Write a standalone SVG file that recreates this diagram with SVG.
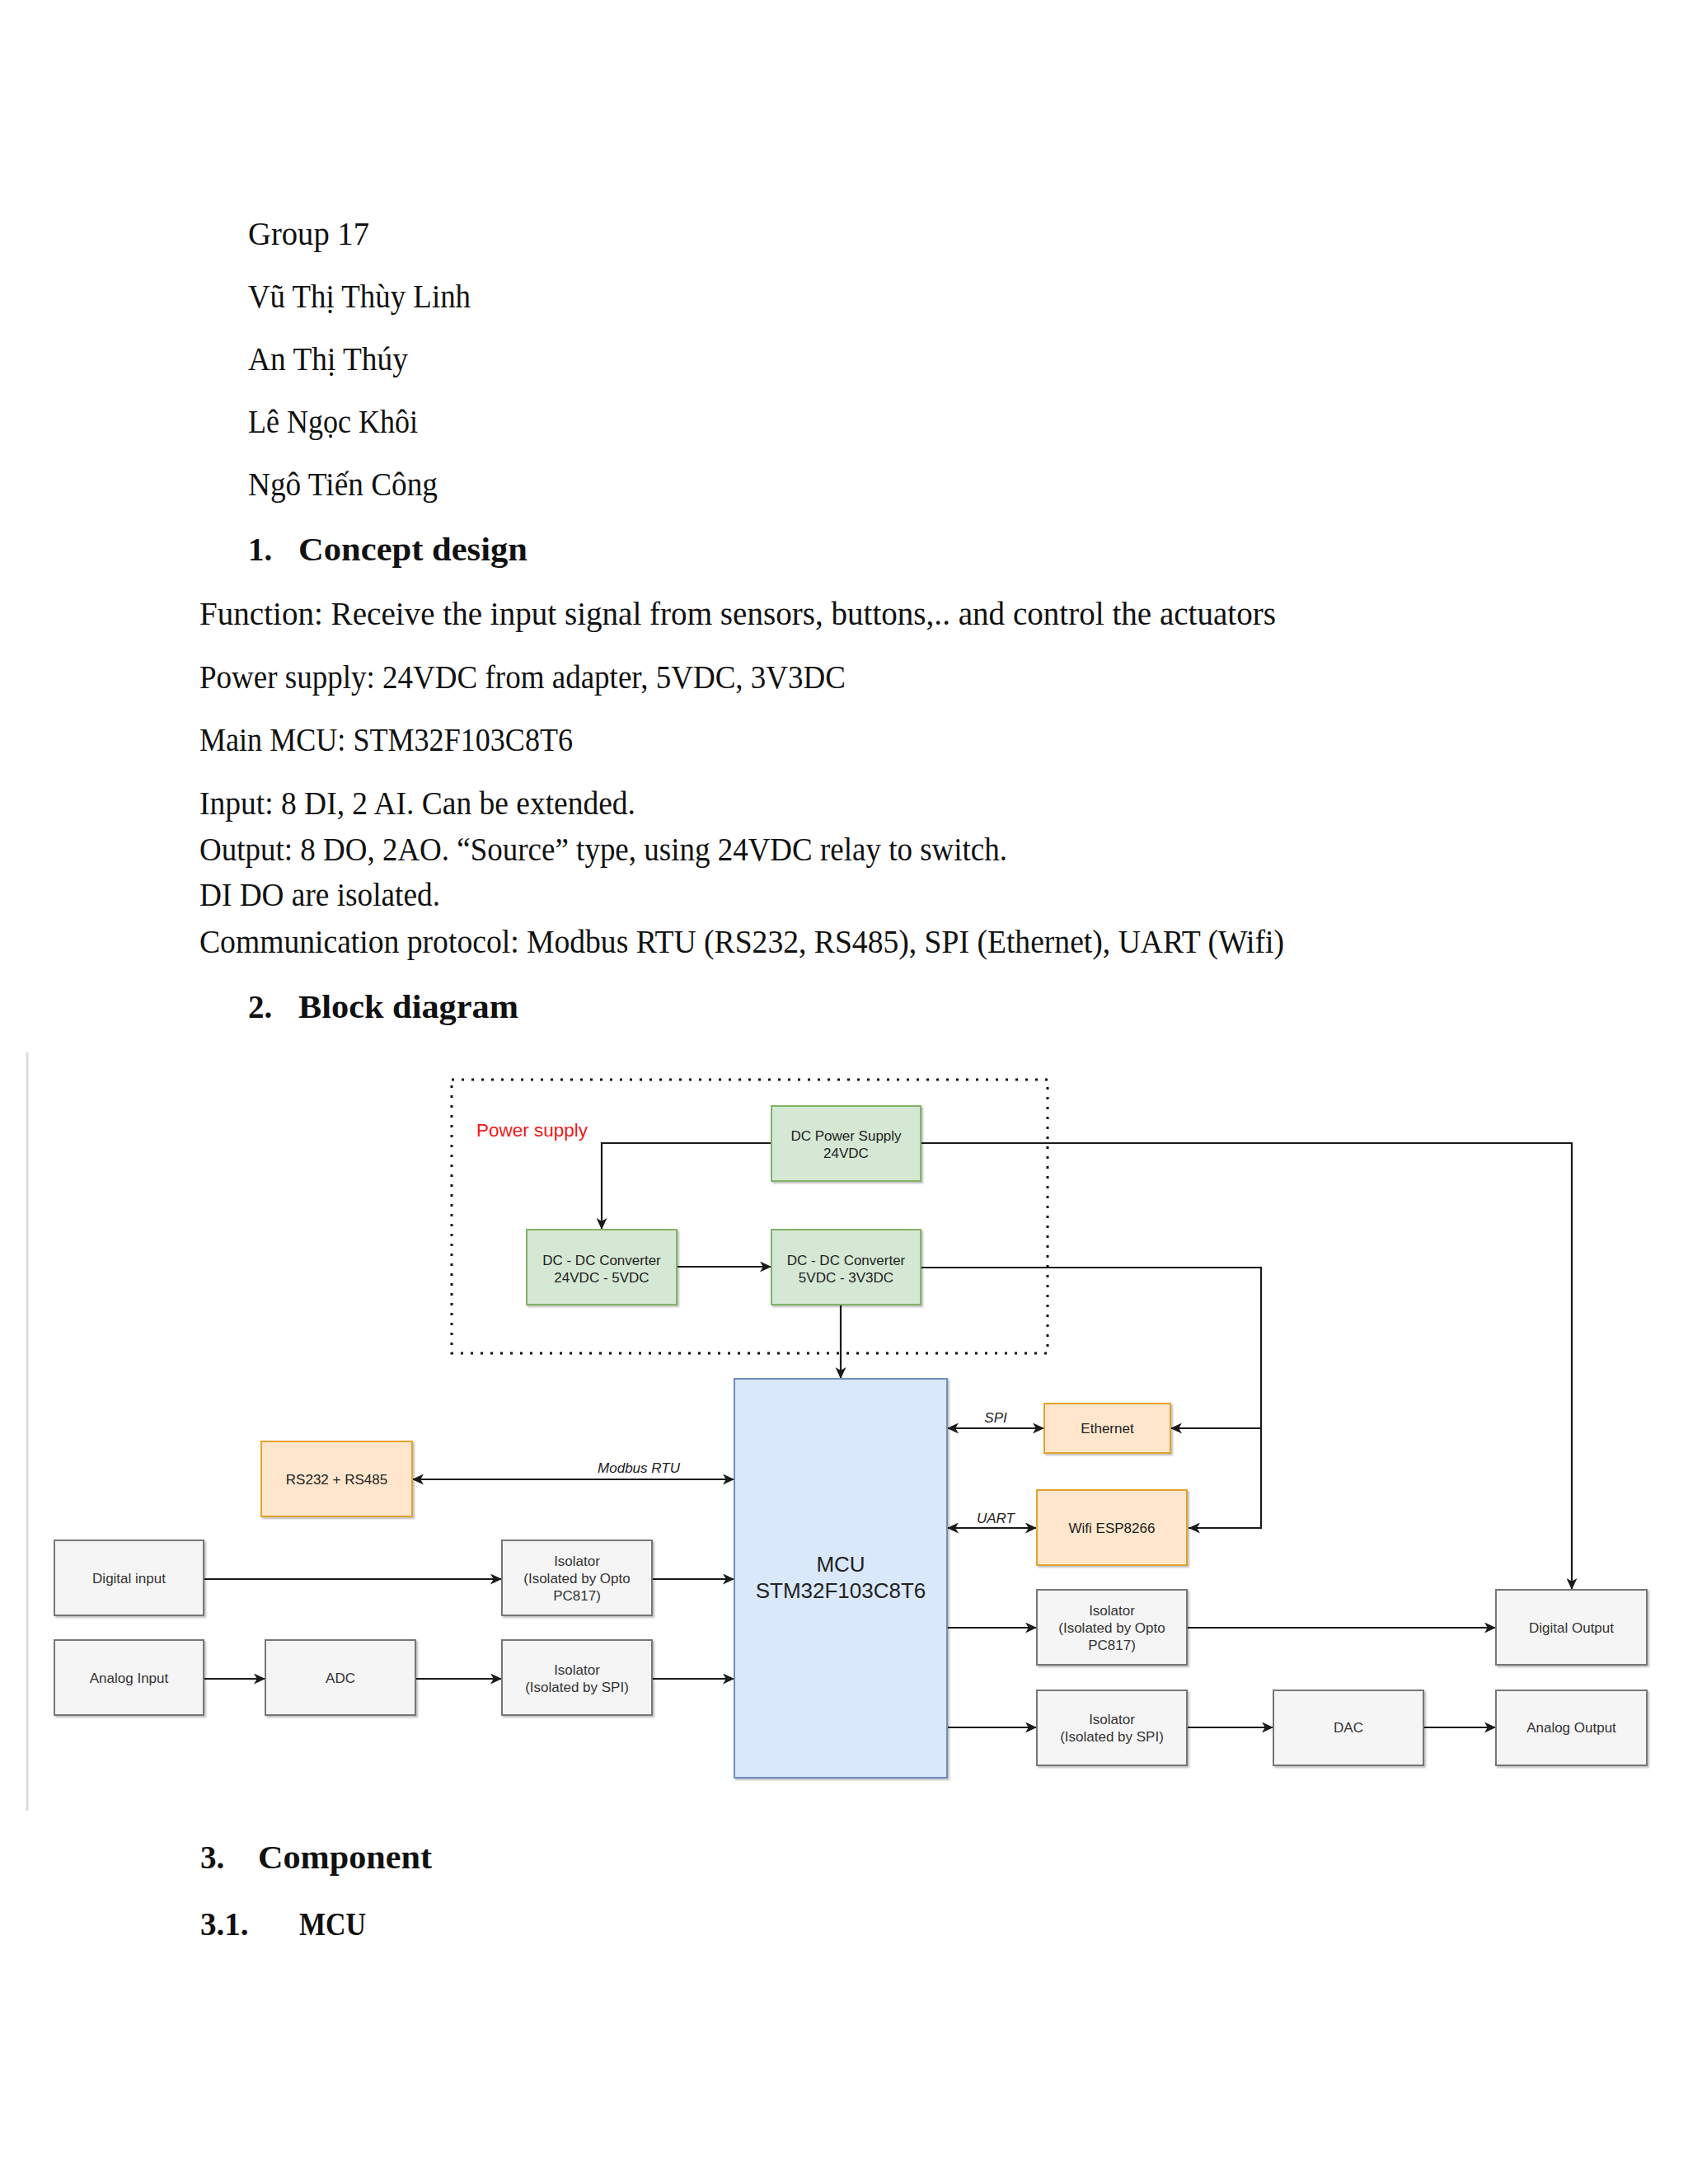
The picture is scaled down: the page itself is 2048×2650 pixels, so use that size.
<svg xmlns="http://www.w3.org/2000/svg" width="2048" height="2650" viewBox="0 0 2048 2650">
<defs>
<style>
.doc{font-family:"Liberation Serif","DejaVu Serif",serif;font-size:39px;fill:#111}
.h{font-weight:bold}
.nt{font-family:"Liberation Sans",Arial,sans-serif;font-size:17px;text-anchor:middle;fill:#222}
.big{font-size:26px}
.gt{fill:#333}
.lbl{font-family:"Liberation Sans",Arial,sans-serif;font-size:17px;font-style:italic;text-anchor:middle;fill:#222}
.green{fill:#d5e8d4;stroke:#82b366;stroke-width:2}
.orange{fill:#ffe6cc;stroke:#e3a32e;stroke-width:2}
.gray{fill:#f5f5f5;stroke:#777;stroke-width:2}
.blue{fill:#dae8fc;stroke:#6c8ebf;stroke-width:2}
.edge{fill:none;stroke:#1a1a1a;stroke-width:2.2}
</style>
<filter id="sh" x="-10%" y="-10%" width="130%" height="130%">
<feDropShadow dx="2" dy="2" stdDeviation="1.2" flood-color="#000" flood-opacity="0.25"/>
</filter>
<marker id="arr" markerUnits="userSpaceOnUse" markerWidth="15" markerHeight="13" refX="14" refY="6.5" orient="auto-start-reverse">
<path d="M0,0 L14,6.5 L0,13 L3.8,6.5 Z" fill="#1a1a1a"/>
</marker>
</defs>
<rect width="2048" height="2650" fill="#fff"/>

<g id="doc-text">
<text class="doc" x="301" y="297" textLength="147" lengthAdjust="spacingAndGlyphs">Group 17</text>
<text class="doc" x="301" y="373" textLength="270" lengthAdjust="spacingAndGlyphs">Vũ Thị Thùy Linh</text>
<text class="doc" x="301" y="449" textLength="194" lengthAdjust="spacingAndGlyphs">An Thị Thúy</text>
<text class="doc" x="301" y="525" textLength="206" lengthAdjust="spacingAndGlyphs">Lê Ngọc Khôi</text>
<text class="doc" x="301" y="601" textLength="230" lengthAdjust="spacingAndGlyphs">Ngô Tiến Công</text>
<text class="doc h" x="301" y="680">1.</text>
<text class="doc h" x="362" y="680" textLength="278" lengthAdjust="spacingAndGlyphs">Concept design</text>
<text class="doc" x="242" y="758" textLength="1306" lengthAdjust="spacingAndGlyphs">Function: Receive the input signal from sensors, buttons,.. and control the actuators</text>
<text class="doc" x="242" y="835" textLength="784" lengthAdjust="spacingAndGlyphs">Power supply: 24VDC from adapter, 5VDC, 3V3DC</text>
<text class="doc" x="242" y="911" textLength="453" lengthAdjust="spacingAndGlyphs">Main MCU: STM32F103C8T6</text>
<text class="doc" x="242" y="988" textLength="529" lengthAdjust="spacingAndGlyphs">Input: 8 DI, 2 AI. Can be extended.</text>
<text class="doc" x="242" y="1044" textLength="980" lengthAdjust="spacingAndGlyphs">Output: 8 DO, 2AO. “Source” type, using 24VDC relay to switch.</text>
<text class="doc" x="242" y="1099" textLength="292" lengthAdjust="spacingAndGlyphs">DI DO are isolated.</text>
<text class="doc" x="242" y="1156" textLength="1316" lengthAdjust="spacingAndGlyphs">Communication protocol: Modbus RTU (RS232, RS485), SPI (Ethernet), UART (Wifi)</text>
<text class="doc h" x="301" y="1235">2.</text>
<text class="doc h" x="362" y="1235" textLength="267" lengthAdjust="spacingAndGlyphs">Block diagram</text>
<text class="doc h" x="243" y="2267">3.</text>
<text class="doc h" x="313" y="2267" textLength="211" lengthAdjust="spacingAndGlyphs">Component</text>
<text class="doc h" x="243" y="2348">3.1.</text>
<text class="doc h" x="363" y="2348" textLength="81" lengthAdjust="spacingAndGlyphs">MCU</text>
</g>

<line x1="33" y1="1277" x2="33" y2="2197" stroke="#dcdcdc" stroke-width="3"/>

<g id="power-supply-group">
<rect x="548" y="1310" width="723" height="332" fill="none" stroke="#111" stroke-width="3" stroke-dasharray="3 9"/>
<text x="578" y="1379" font-family="Liberation Sans,Arial,sans-serif" font-size="22.5" fill="#f01818">Power supply</text>
</g>

<g id="connectors">
<polyline class="edge" points="936,1387 730,1387 730,1492" marker-end="url(#arr)"/>
<line class="edge" x1="821" y1="1537" x2="936" y2="1537" marker-end="url(#arr)"/>
<line class="edge" x1="1020" y1="1583" x2="1020" y2="1673" marker-end="url(#arr)"/>
<polyline class="edge" points="1117,1387 1907,1387 1907,1929" marker-end="url(#arr)"/>
<polyline class="edge" points="1117,1538 1530,1538 1530,1854 1442,1854" marker-end="url(#arr)"/>
<line class="edge" x1="1530" y1="1733" x2="1420" y2="1733" marker-end="url(#arr)"/>
<line class="edge" x1="1149" y1="1733" x2="1267" y2="1733" marker-start="url(#arr)" marker-end="url(#arr)"/>
<line class="edge" x1="1149" y1="1854" x2="1258" y2="1854" marker-start="url(#arr)" marker-end="url(#arr)"/>
<line class="edge" x1="500" y1="1795" x2="891" y2="1795" marker-start="url(#arr)" marker-end="url(#arr)"/>
<line class="edge" x1="247" y1="1916" x2="609" y2="1916" marker-end="url(#arr)"/>
<line class="edge" x1="791" y1="1916" x2="891" y2="1916" marker-end="url(#arr)"/>
<line class="edge" x1="247" y1="2037" x2="322" y2="2037" marker-end="url(#arr)"/>
<line class="edge" x1="504" y1="2037" x2="609" y2="2037" marker-end="url(#arr)"/>
<line class="edge" x1="791" y1="2037" x2="891" y2="2037" marker-end="url(#arr)"/>
<line class="edge" x1="1149" y1="1975" x2="1258" y2="1975" marker-end="url(#arr)"/>
<line class="edge" x1="1440" y1="1975" x2="1815" y2="1975" marker-end="url(#arr)"/>
<line class="edge" x1="1149" y1="2096" x2="1258" y2="2096" marker-end="url(#arr)"/>
<line class="edge" x1="1440" y1="2096" x2="1545" y2="2096" marker-end="url(#arr)"/>
<line class="edge" x1="1727" y1="2096" x2="1815" y2="2096" marker-end="url(#arr)"/>
<text class="lbl" x="1208" y="1726">SPI</text>
<text class="lbl" x="1208" y="1848">UART</text>
<text class="lbl" x="775" y="1787">Modbus RTU</text>
</g>

<g id="dc-power-supply">
<rect class="green" x="936" y="1342" width="181" height="91" filter="url(#sh)"/>
<text class="nt" x="1026.5" y="1384">DC Power Supply</text>
<text class="nt" x="1026.5" y="1405">24VDC</text>
</g>
<g id="dcdc-24-5">
<rect class="green" x="639" y="1492" width="182" height="91" filter="url(#sh)"/>
<text class="nt" x="730" y="1535">DC - DC Converter</text>
<text class="nt" x="730" y="1556">24VDC - 5VDC</text>
</g>
<g id="dcdc-5-3v3">
<rect class="green" x="936" y="1492" width="181" height="91" filter="url(#sh)"/>
<text class="nt" x="1026.5" y="1535">DC - DC Converter</text>
<text class="nt" x="1026.5" y="1556">5VDC - 3V3DC</text>
</g>
<g id="mcu">
<rect class="blue" x="891" y="1673" width="258" height="484" filter="url(#sh)"/>
<text class="nt big" x="1020" y="1907">MCU</text>
<text class="nt big" x="1020" y="1939">STM32F103C8T6</text>
</g>
<g id="ethernet">
<rect class="orange" x="1267" y="1703" width="153" height="60" filter="url(#sh)"/>
<text class="nt" x="1343.5" y="1739">Ethernet</text>
</g>
<g id="wifi">
<rect class="orange" x="1258" y="1808" width="182" height="91" filter="url(#sh)"/>
<text class="nt" x="1349" y="1860">Wifi ESP8266</text>
</g>
<g id="rs232-rs485">
<rect class="orange" x="317" y="1749" width="183" height="91" filter="url(#sh)"/>
<text class="nt" x="408.5" y="1801">RS232 + RS485</text>
</g>
<g id="digital-input">
<rect class="gray" x="66" y="1869" width="181" height="91" filter="url(#sh)"/>
<text class="nt gt" x="156.5" y="1921">Digital input</text>
</g>
<g id="isolator-opto-in">
<rect class="gray" x="609" y="1869" width="182" height="91" filter="url(#sh)"/>
<text class="nt gt" x="700" y="1900">Isolator</text>
<text class="nt gt" x="700" y="1921">(Isolated by Opto</text>
<text class="nt gt" x="700" y="1942">PC817)</text>
</g>
<g id="analog-input">
<rect class="gray" x="66" y="1990" width="181" height="91" filter="url(#sh)"/>
<text class="nt gt" x="156.5" y="2042">Analog Input</text>
</g>
<g id="adc">
<rect class="gray" x="322" y="1990" width="182" height="91" filter="url(#sh)"/>
<text class="nt gt" x="413" y="2042">ADC</text>
</g>
<g id="isolator-spi-in">
<rect class="gray" x="609" y="1990" width="182" height="91" filter="url(#sh)"/>
<text class="nt gt" x="700" y="2032">Isolator</text>
<text class="nt gt" x="700" y="2053">(Isolated by SPI)</text>
</g>
<g id="isolator-opto-out">
<rect class="gray" x="1258" y="1929" width="182" height="91" filter="url(#sh)"/>
<text class="nt gt" x="1349" y="1960">Isolator</text>
<text class="nt gt" x="1349" y="1981">(Isolated by Opto</text>
<text class="nt gt" x="1349" y="2002">PC817)</text>
</g>
<g id="digital-output">
<rect class="gray" x="1815" y="1929" width="183" height="91" filter="url(#sh)"/>
<text class="nt gt" x="1906.5" y="1981">Digital Output</text>
</g>
<g id="isolator-spi-out">
<rect class="gray" x="1258" y="2051" width="182" height="91" filter="url(#sh)"/>
<text class="nt gt" x="1349" y="2092">Isolator</text>
<text class="nt gt" x="1349" y="2113">(Isolated by SPI)</text>
</g>
<g id="dac">
<rect class="gray" x="1545" y="2051" width="182" height="91" filter="url(#sh)"/>
<text class="nt gt" x="1636" y="2102">DAC</text>
</g>
<g id="analog-output">
<rect class="gray" x="1815" y="2051" width="183" height="91" filter="url(#sh)"/>
<text class="nt gt" x="1906.5" y="2102">Analog Output</text>
</g>
</svg>
